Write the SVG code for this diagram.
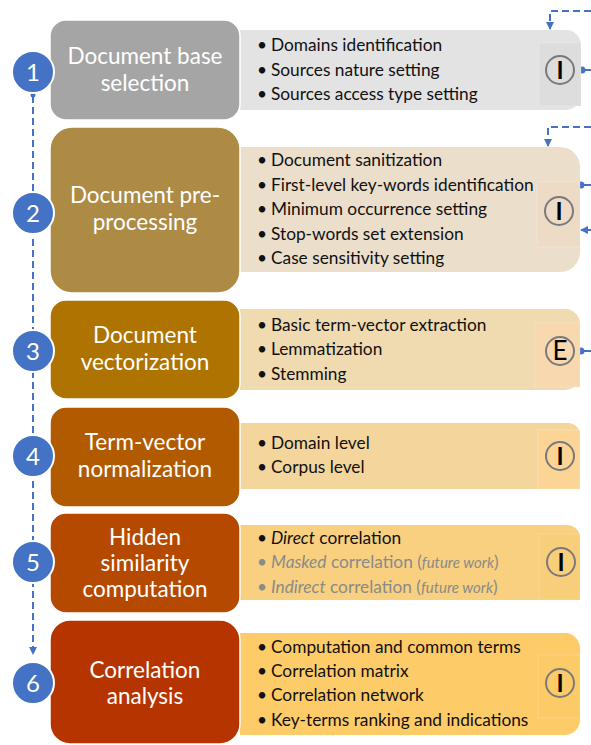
<svg xmlns="http://www.w3.org/2000/svg" width="591" height="745" viewBox="0 0 591 745">
<style>
.box{stroke:#ffffff;stroke-width:1.5}
.bt{font-family:Lato,"Open Sans",sans-serif;font-size:22.5px;fill:#ffffff;text-anchor:middle}
.pt{font-family:Lato,"Open Sans",sans-serif;font-size:17.3px;fill:#111111}
.gr{fill:#8a8a8a}
.it{font-style:italic}
.sm{font-size:15px}
.inner{stroke:#ffffff;stroke-opacity:0.2;stroke-width:1}
.ring{fill:none;stroke:#7a7a7a;stroke-width:2}
.ic{font-family:Lato,"Open Sans",sans-serif;font-size:24px;font-weight:700;fill:#000000;text-anchor:middle}
.ie{font-family:Lato,"Open Sans",sans-serif;font-size:26px;fill:#000000;text-anchor:middle}
.num{fill:#4472C4;stroke:#ffffff;stroke-width:2}
.nt{font-family:Lato,"Open Sans",sans-serif;font-size:24px;fill:#ffffff;text-anchor:middle}
.dash{fill:none;stroke:#4472C4;stroke-width:2;stroke-dasharray:7 4}
.solid{fill:none;stroke:#4472C4;stroke-width:2}
</style>
<defs>
<marker id="ah" viewBox="0 0 8 8" refX="7" refY="4" markerWidth="8" markerHeight="8" markerUnits="userSpaceOnUse" orient="auto">
<path d="M0,0 L8,4 L0,8 z" fill="#4472C4"/>
</marker>
</defs>

<g id="connectors">
<path class="dash" d="M33,96 V654" marker-end="url(#ah)"/>
<circle cx="33" cy="95" r="2.5" fill="#4472C4"/>
<path class="dash" d="M591,11 H550 V29" marker-end="url(#ah)"/>
<path class="dash" d="M591,127 H548 V146" marker-end="url(#ah)"/>
<path class="solid" d="M582,70 H591"/>
<circle cx="582" cy="70" r="3.5" fill="#4472C4"/>
<path class="solid" d="M581,185 H591"/>
<circle cx="581" cy="185" r="3.5" fill="#4472C4"/>
<path class="dash" d="M593,230 H581" stroke-dasharray="3 3" marker-end="url(#ah)"/>
<path class="solid" d="M581,351 H591"/>
<circle cx="581" cy="351" r="3.5" fill="#4472C4"/>
</g>

<g id="step1">
<path d="M240,30 H566 A15,15 0 0 1 581,45 V95 A15,15 0 0 1 566,110 H240 Z" fill="#E3E3E3"/>
<rect class="inner" x="539" y="43" width="42" height="63" fill="#DDDDDD"/>
<circle class="ring" cx="560" cy="70" r="14"/>
<text class="ic" x="560" y="79">I</text>
<rect class="box" x="50" y="20" width="190" height="100" rx="16" fill="#A5A5A5"/>
<text class="bt" x="145" y="64">Document base</text>
<text class="bt" x="145" y="91">selection</text>
<text class="pt" x="257" y="51">•<tspan x="271">Domains identification</tspan></text>
<text class="pt" x="257" y="76">•<tspan x="271">Sources nature setting</tspan></text>
<text class="pt" x="257" y="100">•<tspan x="271">Sources access type setting</tspan></text>
<circle class="num" cx="33" cy="72" r="21"/>
<text class="nt" x="33" y="81">1</text>
</g>

<g id="step2">
<path d="M240,147 H560 A20,20 0 0 1 580,167 V252 A20,20 0 0 1 560,272 H240 Z" fill="#EBDFCC"/>
<rect class="inner" x="537" y="182" width="43" height="65" fill="#EEDBC5"/>
<circle class="ring" cx="559" cy="211" r="14"/>
<text class="ic" x="559" y="220">I</text>
<rect class="box" x="50" y="127" width="190" height="166" rx="22" fill="#AD8B45"/>
<text class="bt" x="145" y="203">Document pre-</text>
<text class="bt" x="145" y="230">processing</text>
<text class="pt" x="257" y="166">•<tspan x="271">Document sanitization</tspan></text>
<text class="pt" x="257" y="191">•<tspan x="271">First-level key-words identification</tspan></text>
<text class="pt" x="257" y="215">•<tspan x="271">Minimum occurrence setting</tspan></text>
<text class="pt" x="257" y="240">•<tspan x="271">Stop-words set extension</tspan></text>
<text class="pt" x="257" y="264">•<tspan x="271">Case sensitivity setting</tspan></text>
<circle class="num" cx="33" cy="213" r="21"/>
<text class="nt" x="33" y="222">2</text>
</g>

<g id="step3">
<path d="M240,309 H565 A15,15 0 0 1 580,324 V375 A15,15 0 0 1 565,390 H240 Z" fill="#F0DBB1"/>
<rect class="inner" x="535" y="323" width="45" height="64" fill="#F8D8AE"/>
<circle class="ring" cx="560" cy="351" r="14"/>
<text class="ie" x="560" y="360">E</text>
<rect class="box" x="50" y="300" width="190" height="99" rx="16" fill="#AE7300"/>
<text class="bt" x="145" y="343">Document</text>
<text class="bt" x="145" y="370">vectorization</text>
<text class="pt" x="257" y="331">•<tspan x="271">Basic term-vector extraction</tspan></text>
<text class="pt" x="257" y="355">•<tspan x="271">Lemmatization</tspan></text>
<text class="pt" x="257" y="380">•<tspan x="271">Stemming</tspan></text>
<circle class="num" cx="33" cy="351" r="21"/>
<text class="nt" x="33" y="360">3</text>
</g>

<g id="step4">
<path d="M240,423 H568 A12,12 0 0 1 580,435 V477 A12,12 0 0 1 568,489 H240 Z" fill="#F4D69C"/>
<rect class="inner" x="538" y="430" width="42" height="59" fill="#FCD596"/>
<circle class="ring" cx="560" cy="456" r="14"/>
<text class="ic" x="560" y="465">I</text>
<rect class="box" x="50" y="407" width="190" height="100" rx="16" fill="#B25A00"/>
<text class="bt" x="145" y="450">Term-vector</text>
<text class="bt" x="145" y="477">normalization</text>
<text class="pt" x="257" y="449">•<tspan x="271">Domain level</tspan></text>
<text class="pt" x="257" y="473">•<tspan x="271">Corpus level</tspan></text>
<circle class="num" cx="33" cy="456" r="21"/>
<text class="nt" x="33" y="465">4</text>
</g>

<g id="step5">
<path d="M240,525 H567 A13,13 0 0 1 580,538 V587 A13,13 0 0 1 567,600 H240 Z" fill="#F8D07F"/>
<rect class="inner" x="539" y="534" width="41" height="66" fill="#F9CE7B"/>
<circle class="ring" cx="561" cy="562" r="14"/>
<text class="ic" x="561" y="571">I</text>
<rect class="box" x="50" y="513" width="190" height="100" rx="16" fill="#B54900"/>
<text class="bt" x="145" y="545">Hidden</text>
<text class="bt" x="145" y="571">similarity</text>
<text class="bt" x="145" y="597">computation</text>
<text class="pt" x="257" y="544">•<tspan x="271" class="it">Direct</tspan> correlation</text>
<text class="pt gr" x="257" y="568">•<tspan x="271" class="it">Masked</tspan> correlation (<tspan class="it sm">future work</tspan>)</text>
<text class="pt gr" x="257" y="593">•<tspan x="271" class="it">Indirect</tspan> correlation (<tspan class="it sm">future work</tspan>)</text>
<circle class="num" cx="33" cy="562" r="21"/>
<text class="nt" x="33" y="571">5</text>
</g>

<g id="step6">
<path d="M240,633 H565 A15,15 0 0 1 580,648 V720 A15,15 0 0 1 565,735 H240 Z" fill="#FDCB67"/>
<rect class="inner" x="538" y="655" width="42" height="63" fill="#FCCA66"/>
<circle class="ring" cx="560" cy="683" r="14"/>
<text class="ic" x="560" y="692">I</text>
<rect class="box" x="50" y="620" width="190" height="124" rx="20" fill="#B63400"/>
<text class="bt" x="145" y="678">Correlation</text>
<text class="bt" x="145" y="704">analysis</text>
<text class="pt" x="257" y="653">•<tspan x="271">Computation and common terms</tspan></text>
<text class="pt" x="257" y="677">•<tspan x="271">Correlation matrix</tspan></text>
<text class="pt" x="257" y="701">•<tspan x="271">Correlation network</tspan></text>
<text class="pt" x="257" y="726">•<tspan x="271">Key-terms ranking and indications</tspan></text>
<circle class="num" cx="33" cy="683" r="21"/>
<text class="nt" x="33" y="692">6</text>
</g>
</svg>
